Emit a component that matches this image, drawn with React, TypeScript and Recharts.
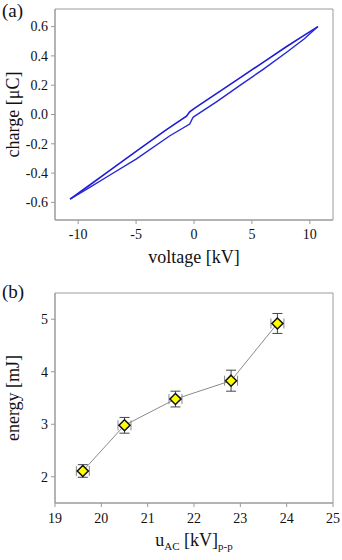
import {
  ErrorBar,
  Line,
  LineChart,
  ReferenceArea,
  Scatter,
  ScatterChart,
  XAxis,
  YAxis,
} from "recharts";

// (a) Lissajous loop, charge vs voltage
const upperVoltage = [-10.7, -9, -7.5, -5, -2.5, -0.65, -0.37, 0, 2, 4, 6, 8, 9.5, 10.7];
const upperCharge = [-0.578, -0.481, -0.395, -0.252, -0.11, -0.012, 0.018, 0.04, 0.146, 0.252, 0.358, 0.464, 0.54, 0.6];
const lowerVoltage = [10.7, 9.5, 8, 6, 4, 2, 0, -0.09, -0.37, -2.08, -5, -7.5, -9, -10.7];
const lowerCharge = [0.6, 0.515, 0.425, 0.31, 0.2, 0.09, -0.015, -0.02, -0.065, -0.145, -0.305, -0.425, -0.497, -0.578];

const chargeTicks = [-0.6, -0.4, -0.2, 0, 0.2, 0.4, 0.6];
const voltageTicks = [-10, -5, 0, 5, 10];

// (b) energy vs applied voltage
const uAC = [19.6, 20.5, 21.6, 22.8, 23.8];
const energy = [2.11, 2.98, 3.48, 3.83, 4.92];
const energyErr = [0.12, 0.15, 0.15, 0.2, 0.19];
const uErr = [0.14, 0.14, 0.14, 0.14, 0.14];

const energyTicks = [2, 3, 4, 5];
const uTicks = [19, 20, 21, 22, 23, 24, 25];

const upper = upperVoltage.map((v, i) => ({ v, q: upperCharge[i] }));
const lower = lowerVoltage.map((v, i) => ({ v, q: lowerCharge[i] }));
const points = uAC.map((u, i) => ({ u, e: energy[i], ey: energyErr[i], ex: uErr[i] }));

const FONT = "'Liberation Serif', 'Times New Roman', serif";
const FRAME = "#9a9a9a";
const title = { fill: "#111", fontSize: 18, fontFamily: FONT };

// serif tick text; recharts' default tick ignores the font family otherwise
function Tick(props: any) {
  const { x, y, payload, textAnchor, orientation, digits } = props;
  const label = digits != null ? Number(payload.value).toFixed(digits) : String(payload.value);
  const dy = orientation === "bottom" ? "0.71em" : "0.35em";
  return (
    <text x={x} y={y} dy={dy} textAnchor={textAnchor} fill="#111" fontSize={14} fontFamily={FONT}>
      {label}
    </text>
  );
}

function Diamond(props: any) {
  const { cx, cy } = props;
  const r = 5.5;
  return (
    <polygon
      points={`${cx},${cy - r} ${cx + r},${cy} ${cx},${cy + r} ${cx - r},${cy}`}
      fill="#ffff00"
      stroke="#111"
      strokeWidth={1.5}
    />
  );
}

function UacLabel(props: any) {
  const { viewBox } = props;
  const x = viewBox.x + viewBox.width / 2;
  const y = viewBox.y + viewBox.height - 14;
  return (
    <text x={x} y={y} textAnchor="middle" style={title}>
      <tspan>u</tspan>
      <tspan fontSize={11} dy={4}>AC</tspan>
      <tspan dy={-4}> [kV]</tspan>
      <tspan fontSize={11} dy={4}>p-p</tspan>
    </text>
  );
}

export default function App() {
  return (
    <div style={{ position: "absolute", left: 0, top: 0, width: 342, height: 560, background: "#fff", fontFamily: FONT }}>
      <div style={{ position: "absolute", left: 0, top: 0 }}>
        <LineChart width={342} height={280} margin={{ top: 9, right: 9, left: 0, bottom: 0 }}>
          <XAxis
            type="number"
            dataKey="v"
            domain={[-12, 12]}
            ticks={voltageTicks}
            tick={<Tick />}
            tickSize={4}
            tickMargin={5}
            height={60}
            stroke={FRAME}
            allowDuplicatedCategory={false}
            label={{ value: "voltage [kV]", position: "insideBottom", offset: 17, style: title }}
          />
          <YAxis
            type="number"
            dataKey="q"
            domain={[-0.72, 0.72]}
            ticks={chargeTicks}
            tick={<Tick digits={1} />}
            tickSize={4}
            tickMargin={3}
            width={55}
            stroke={FRAME}
            label={{ value: "charge [μC]", angle: -90, position: "insideLeft", offset: 13, style: { ...title, textAnchor: "middle" } }}
          />
          <ReferenceArea x1={-12} x2={12} y1={-0.72} y2={0.72} fill="none" stroke={FRAME} strokeOpacity={1} />
          <Line data={upper} dataKey="q" stroke="#1c1cd4" strokeWidth={1.6} dot={false} type="linear" isAnimationActive={false} />
          <Line data={lower} dataKey="q" stroke="#2626d8" strokeWidth={1.4} dot={false} type="linear" isAnimationActive={false} />
        </LineChart>
      </div>
      <div style={{ position: "absolute", left: 0, top: 280 }}>
        <ScatterChart width={342} height={280} margin={{ top: 13, right: 9, left: 0, bottom: 0 }}>
          <XAxis
            type="number"
            dataKey="u"
            domain={[19, 25]}
            ticks={uTicks}
            tick={<Tick />}
            tickSize={4}
            tickMargin={6}
            height={57}
            stroke={FRAME}
            label={<UacLabel />}
          />
          <YAxis
            type="number"
            dataKey="e"
            domain={[1.5, 5.5]}
            ticks={energyTicks}
            tick={<Tick />}
            tickSize={4}
            tickMargin={3}
            width={55}
            stroke={FRAME}
            label={{ value: "energy [mJ]", angle: -90, position: "insideLeft", offset: 13, style: { ...title, textAnchor: "middle" } }}
          />
          <ReferenceArea x1={19} x2={25} y1={1.5} y2={5.5} fill="none" stroke={FRAME} strokeOpacity={1} />
          <Scatter
            data={points}
            shape={<Diamond />}
            line={{ stroke: "#8a8a8a", strokeWidth: 1 }}
            lineType="joint"
            isAnimationActive={false}
          >
            <ErrorBar dataKey="ey" direction="y" width={5} stroke="#444" strokeWidth={1} />
            <ErrorBar dataKey="ex" direction="x" width={5} stroke="#888" strokeWidth={1} />
          </Scatter>
        </ScatterChart>
      </div>
      <svg width={342} height={560} style={{ position: "absolute", left: 0, top: 0, pointerEvents: "none" }}>
        <text x={2} y={17} style={{ ...title, fontSize: 19 }}>(a)</text>
        <text x={2} y={298} style={{ ...title, fontSize: 19 }}>(b)</text>
      </svg>
    </div>
  );
}
